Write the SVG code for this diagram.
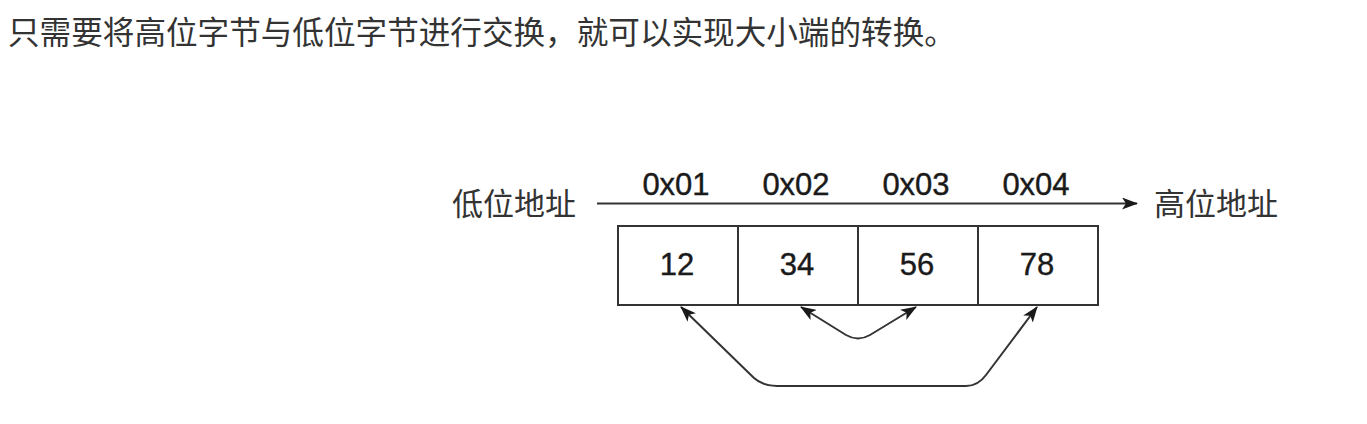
<svg xmlns="http://www.w3.org/2000/svg" width="1367" height="424" viewBox="0 0 1367 424">
<defs>
<style>
.cjk{font-family:"Noto Sans CJK SC","Noto Sans",sans-serif;fill:#333}
.lbl{font-family:"Liberation Sans",Arial,sans-serif;fill:#1a1a1a;stroke:#1a1a1a;stroke-width:0.4;font-size:31px;text-anchor:middle}
.box{fill:#fff;stroke:#333;stroke-width:2}
.ln{fill:none;stroke:#333;stroke-width:2}
</style>
<marker id="ah" viewBox="0 0 16 12" refX="15" refY="6" markerWidth="16" markerHeight="12" markerUnits="userSpaceOnUse" orient="auto-start-reverse">
<path d="M0,0 L16,6 L0,12 L4,6 Z" fill="#1a1a1a"/>
</marker>
</defs>
<rect width="1367" height="424" fill="#fff"/>
<text id="caption" class="cjk" x="8" y="44" font-size="31.6">只需要将高位字节与低位字节进行交换，就可以实现大小端的转换。</text>
<g id="low-label"><text class="cjk" x="452" y="215" font-size="31">低位地址</text></g>
<g id="high-label"><text class="cjk" x="1154" y="215" font-size="31">高位地址</text></g>
<g id="addr-labels">
<text class="lbl" x="676" y="195">0x01</text>
<text class="lbl" x="796" y="195">0x02</text>
<text class="lbl" x="916" y="195">0x03</text>
<text class="lbl" x="1036" y="195">0x04</text>
</g>
<g id="cell1"><rect class="box" x="618" y="226" width="120" height="79"/><text class="lbl" x="677" y="275">12</text></g>
<g id="cell2"><rect class="box" x="738" y="226" width="120" height="79"/><text class="lbl" x="797" y="275">34</text></g>
<g id="cell3"><rect class="box" x="858" y="226" width="120" height="79"/><text class="lbl" x="917" y="275">56</text></g>
<g id="cell4"><rect class="box" x="978" y="226" width="120" height="79"/><text class="lbl" x="1037" y="275">78</text></g>
<g id="connectors">
<line class="ln" x1="597" y1="203.5" x2="1137" y2="203.5" marker-end="url(#ah)"/>
<path class="ln" d="M801 307 L846 335 Q858 342 870 335 L916 307" marker-start="url(#ah)" marker-end="url(#ah)"/>
<path class="ln" d="M681 307 L754 378 Q763 386 777 386 L966 386 Q978 386 986 375 L1037 307" marker-start="url(#ah)" marker-end="url(#ah)"/>
</g>
</svg>
